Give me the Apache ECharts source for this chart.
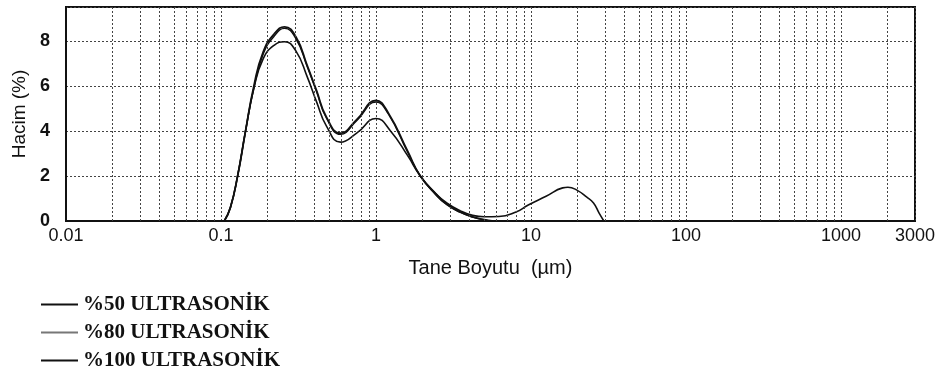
<!DOCTYPE html>
<html>
<head>
<meta charset="utf-8">
<script src="https://cdn.jsdelivr.net/npm/echarts@6/dist/echarts.min.js"></script>
<style>
  html, body { margin: 0; padding: 0; background: #fff; }
  #chart { width: 944px; height: 379px; }
</style>
</head>
<body>
<div id="chart"></div>
<script>
// particle size (µm) and volume (%)
const sizes50 = [0.105, 0.115, 0.128, 0.144, 0.163, 0.187, 0.22, 0.257, 0.304, 0.36, 0.413, 0.48, 0.59, 0.75, 1.0, 1.24, 1.6, 1.93, 2.4, 2.86, 3.5, 4.2, 5.0, 6.2, 8.0, 9.6, 12.5, 16, 17.3, 20, 22.8, 25.3, 27.5, 29.5];
const vol50 = [0, 0.6, 2, 4, 5.9, 7.2, 7.8, 7.96, 7.55, 6.4, 5.3, 4.2, 3.5, 3.9, 4.55, 4.0, 2.9, 2.0, 1.25, 0.8, 0.45, 0.25, 0.19, 0.2, 0.4, 0.71, 1.1, 1.47, 1.5, 1.35, 1.07, 0.8, 0.35, 0];

const sizes80 = [0.105, 0.115, 0.128, 0.144, 0.163, 0.187, 0.22, 0.257, 0.304, 0.36, 0.413, 0.48, 0.59, 0.75, 1.0, 1.2, 1.6, 1.93, 2.4, 2.86, 3.5, 4.2, 5.0, 5.6];
const vol80 = [0, 0.6, 2, 4, 5.9, 7.4, 8.2, 8.55, 8.1, 6.85, 5.75, 4.55, 3.85, 4.45, 5.28, 4.75, 3.05, 2.0, 1.2, 0.72, 0.38, 0.17, 0.05, 0];

const sizes100 = [0.105, 0.115, 0.128, 0.144, 0.163, 0.187, 0.22, 0.257, 0.304, 0.36, 0.413, 0.48, 0.59, 0.75, 1.0, 1.2, 1.6, 1.93, 2.4, 2.86, 3.5, 4.2, 5.0, 5.6];
const vol100 = [0, 0.6, 2, 4, 6, 7.5, 8.3, 8.62, 8.18, 6.9, 5.8, 4.6, 3.9, 4.5, 5.35, 4.8, 3.1, 2.0, 1.25, 0.75, 0.4, 0.18, 0.06, 0];

const seriesNames = ['%50 ULTRASONİK', '%80 ULTRASONİK', '%100 ULTRASONİK'];

// log grid: 2..9 within every decade
const minorGrid = [];
for (let d = -2; d <= 3; d++) {
  for (let m = 2; m <= 9; m++) {
    const v = m * Math.pow(10, d);
    if (v < 3000) minorGrid.push(+v.toPrecision(3));
  }
}

function pairs(xs, ys) {
  return xs.map((x, i) => [x, ys[i]]);
}

const chart = echarts.init(document.getElementById('chart'));

const gridLine = { color: '#444', width: 1, type: [2, 2] };

function lineSeries(name, xs, ys, width) {
  return {
    name,
    type: 'line',
    data: pairs(xs, ys),
    smooth: 0.5,
    showSymbol: false,
    lineStyle: { color: '#111', width },
    itemStyle: { color: '#111' }
  };
}

const s50 = lineSeries(seriesNames[0], sizes50, vol50, 1.6);
s50.markLine = {
  silent: true,
  symbol: 'none',
  label: { show: false },
  lineStyle: gridLine,
  data: minorGrid.map(v => ({ xAxis: v }))
};

chart.setOption({
  animation: false,
  backgroundColor: '#fff',
  grid: {
    left: 66, right: 29, top: 7, bottom: 158,
    show: true, borderColor: '#111', borderWidth: 2
  },
  legend: {
    orient: 'vertical',
    left: 41,
    top: 294,
    padding: 0,
    itemWidth: 37,
    itemHeight: 2,
    itemGap: 7,
    icon: 'rect',
    data: [
      { name: seriesNames[0] },
      { name: seriesNames[1], itemStyle: { color: '#777' } },
      { name: seriesNames[2] }
    ],
    textStyle: {
      fontFamily: 'Liberation Serif',
      fontWeight: 'bold',
      fontSize: 21,
      color: '#111'
    }
  },
  xAxis: {
    type: 'log',
    logBase: 10,
    min: 0.01,
    max: 3000,
    name: 'Tane Boyutu  (µm)',
    nameLocation: 'middle',
    nameGap: 37,
    nameTextStyle: { fontFamily: 'Liberation Sans', fontSize: 20, color: '#111' },
    axisLine: { show: true, lineStyle: { color: '#111', width: 2 } },
    axisTick: { show: false },
    axisLabel: {
      interval: 0,
      margin: 6,
      fontFamily: 'Liberation Sans',
      fontSize: 18,
      color: '#111',
      formatter: v => String(+(+v).toPrecision(4))
    },
    splitLine: { show: true, lineStyle: gridLine }
  },
  yAxis: {
    type: 'value',
    min: 0,
    max: 9.5,
    interval: 2,
    name: 'Hacim (%)',
    nameLocation: 'middle',
    nameGap: 37,
    nameTextStyle: { fontFamily: 'Liberation Sans', fontSize: 19, color: '#111' },
    axisLine: { show: true, lineStyle: { color: '#111', width: 2 } },
    axisTick: { show: false },
    axisLabel: {
      showMaxLabel: false,
      margin: 16,
      fontFamily: 'Liberation Sans',
      fontWeight: 'bold',
      fontSize: 18,
      color: '#111'
    },
    splitLine: { show: true, lineStyle: gridLine }
  },
  series: [
    s50,
    lineSeries(seriesNames[1], sizes80, vol80, 1.4),
    lineSeries(seriesNames[2], sizes100, vol100, 1.8)
  ]
});
</script>
</body>
</html>
